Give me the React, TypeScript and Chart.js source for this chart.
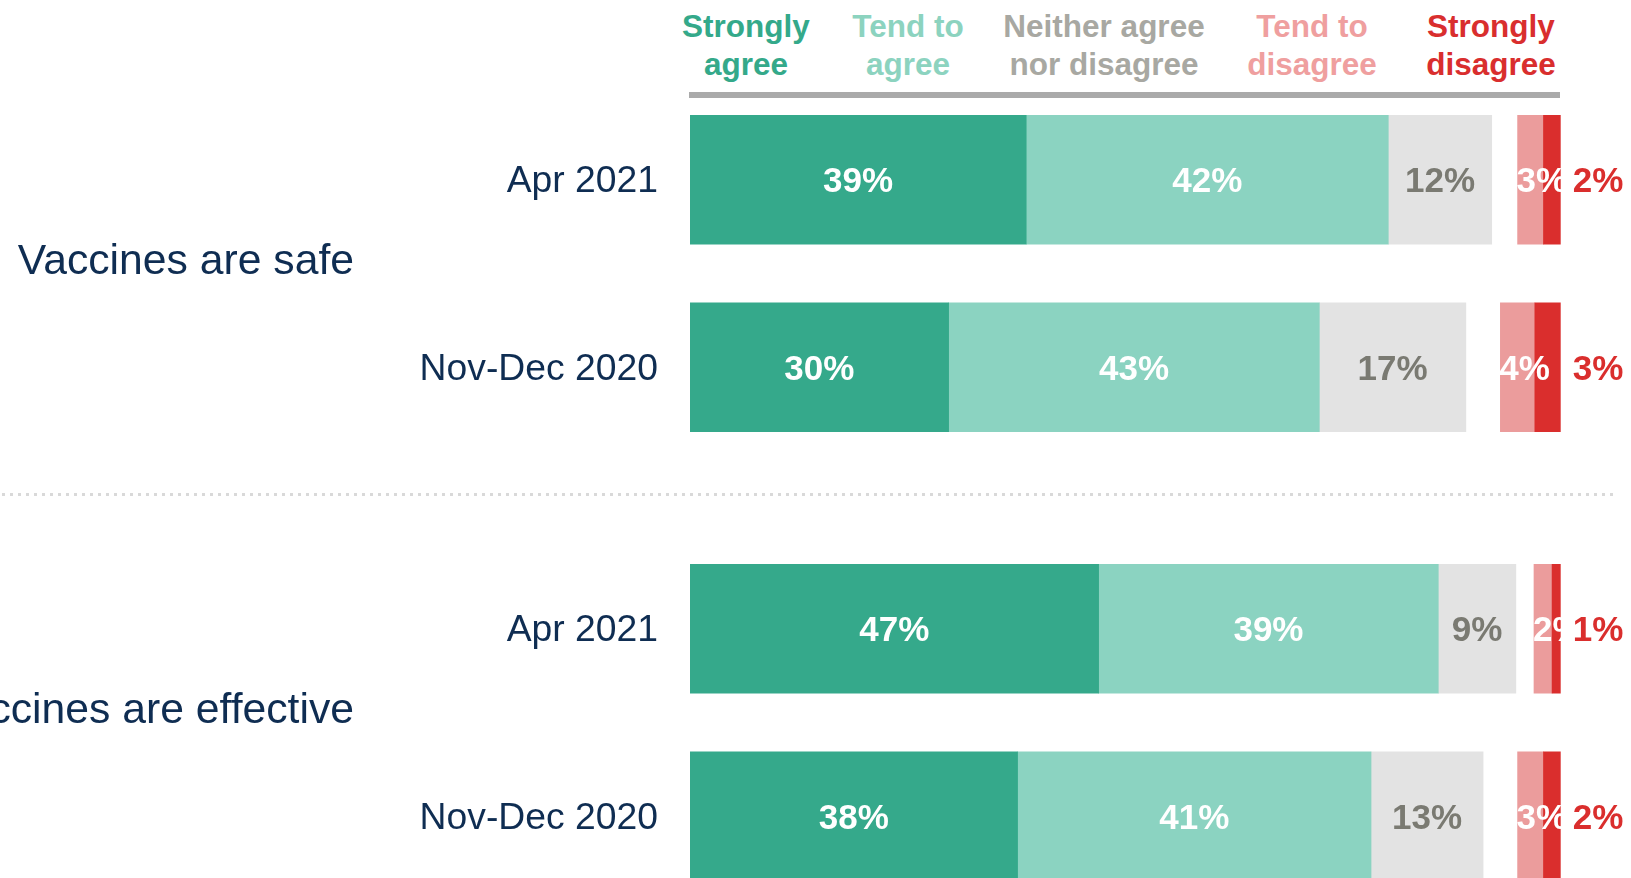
import React, { useEffect, useRef } from "react";
import { Chart, registerables } from "chart.js";

Chart.register(...registerables);

// ---------- data ----------
const CATEGORIES = ["Apr 2021", "Nov-Dec 2020"];
const GROUP_LABELS = ["Vaccines are safe", "Vaccines are effective"];
const RESPONSE_HEADERS = [
  ["Strongly", "agree"],
  ["Tend to", "agree"],
  ["Neither agree", "nor disagree"],
  ["Tend to", "disagree"],
  ["Strongly", "disagree"],
];

const SAFE_STRONGLY_AGREE = [39, 30];
const SAFE_TEND_AGREE = [42, 43];
const SAFE_NEITHER = [12, 17];
const SAFE_TEND_DISAGREE = [3, 4];
const SAFE_STRONGLY_DISAGREE = [2, 3];

const EFF_STRONGLY_AGREE = [47.4, 38];
const EFF_TEND_AGREE = [39.4, 41];
const EFF_NEITHER = [9, 13];
const EFF_TEND_DISAGREE = [2.1, 3];
const EFF_STRONGLY_DISAGREE = [1, 2];

const AXIS_MAX = 101;

// ---------- style ----------
const FONT = '"Liberation Sans", Arial, Helvetica, sans-serif';
const NAVY = "#0f2d52";
const BAR_COLORS = {
  sa: "#35a98b",
  ta: "#8bd3c1",
  ne: "#e3e3e3",
  td: "#eb9c9c",
  sd: "#da2e2d",
};
const HEADER_COLORS = ["#34a98a", "#8cd3bf", "#a8a8a2", "#ef9f9f", "#d92e2e"];
const HEADER_CENTERS = [746, 908, 1104, 1312, 1491];

const labelPlugin = {
  id: "segLabels",
  afterDatasetsDraw(chart: any, _args: any, opts: any) {
    const ctx = chart.ctx;
    const area = chart.chartArea;
    const size = 35;
    ctx.save();
    ctx.textBaseline = "alphabetic";
    ctx.font = `bold ${size}px ${FONT}`;
    const order = ["sa", "ta", "ne", "td", "sd"];
    order.forEach((kind) => {
      chart.data.datasets.forEach((ds: any, di: number) => {
        if (ds.kind !== kind) return;
        const meta = chart.getDatasetMeta(di);
        meta.data.forEach((el: any, i: number) => {
          const v = ds.data[i];
          const text = Math.round(v) + "%";
          const p = el.getProps(["x", "base", "y"], true);
          const left = Math.min(p.x, p.base);
          const right = Math.max(p.x, p.base);
          const by = p.y + size * 0.358;
          if (kind === "sd") {
            ctx.fillStyle = BAR_COLORS.sd;
            ctx.textAlign = "left";
            ctx.fillText(text, area.right + 12, by);
          } else if (kind === "td") {
            ctx.fillStyle = "#ffffff";
            ctx.textAlign = "left";
            ctx.fillText(text, left - 1, by);
          } else {
            ctx.fillStyle = kind === "ne" ? "#7a7a72" : "#ffffff";
            ctx.textAlign = "center";
            ctx.fillText(text, (left + right) / 2, by);
          }
        });
      });
    });
    // category labels, positioned with the category scale
    const yScale = chart.scales.y;
    const catSize = 37.3;
    ctx.font = `${catSize}px ${FONT}`;
    ctx.fillStyle = NAVY;
    ctx.textAlign = "right";
    chart.data.labels.forEach((lab: string, i: number) => {
      const y = yScale.getPixelForValue(i);
      ctx.fillText(lab, area.left - 32, y + catSize * 0.358 - 1);
    });
    // group label
    ctx.font = `42.7px ${FONT}`;
    ctx.textAlign = "right";
    ctx.fillText(opts.group, 354, (area.top + area.bottom) / 2);
    ctx.restore();
  },
};

function makeConfig(
  group: string,
  sa: number[],
  ta: number[],
  ne: number[],
  td: number[],
  sd: number[]
): any {
  return {
    type: "bar",
    data: {
      labels: CATEGORIES,
      datasets: [
        { kind: "sa", label: "Strongly agree", data: sa, backgroundColor: BAR_COLORS.sa, xAxisID: "x" },
        { kind: "ta", label: "Tend to agree", data: ta, backgroundColor: BAR_COLORS.ta, xAxisID: "x" },
        { kind: "ne", label: "Neither agree nor disagree", data: ne, backgroundColor: BAR_COLORS.ne, xAxisID: "x" },
        { kind: "sd", label: "Strongly disagree", data: sd, backgroundColor: BAR_COLORS.sd, xAxisID: "x2" },
        { kind: "td", label: "Tend to disagree", data: td, backgroundColor: BAR_COLORS.td, xAxisID: "x2" },
      ],
    },
    options: {
      indexAxis: "y",
      responsive: false,
      animation: false,
      datasets: { bar: { barThickness: 129, grouped: false, borderWidth: 0 } },
      layout: { autoPadding: false, padding: { left: 690, right: 70.3, top: 0, bottom: 0 } },
      scales: {
        x: { type: "linear", stacked: true, min: 0, max: AXIS_MAX, display: false },
        x2: { type: "linear", stacked: true, min: 0, max: AXIS_MAX, reverse: true, display: false, position: "bottom" },
        y: { type: "category", stacked: true, display: false, offset: true },
      },
      plugins: {
        legend: { display: false },
        tooltip: { enabled: false },
        segLabels: { group },
      },
    },
    plugins: [labelPlugin],
  };
}

function BarCanvas({ top, cfg }: { top: number; cfg: () => any }) {
  const ref = useRef<HTMLCanvasElement | null>(null);
  useEffect(() => {
    if (!ref.current) return;
    const chart = new Chart(ref.current, cfg());
    return () => chart.destroy();
  }, []);
  return (
    <canvas
      ref={ref}
      width={1631}
      height={375}
      style={{ position: "absolute", left: 0, top, width: 1631, height: 375, display: "block" }}
    />
  );
}

export default function App() {
  return (
    <div
      style={{
        position: "fixed",
        left: 0,
        top: 0,
        width: 1631,
        height: 878,
        overflow: "hidden",
        background: "#ffffff",
      }}
    >
      {RESPONSE_HEADERS.map((lines, i) => (
        <div
          key={i}
          style={{
            position: "absolute",
            left: HEADER_CENTERS[i] - 150,
            width: 300,
            top: 6.5,
            textAlign: "center",
            fontFamily: FONT,
            fontWeight: "bold",
            fontSize: 31.5,
            lineHeight: "38.3px",
            color: HEADER_COLORS[i],
            whiteSpace: "nowrap",
          }}
        >
          {lines[0]}
          <br />
          {lines[1]}
        </div>
      ))}
      <div
        style={{
          position: "absolute",
          left: 689,
          top: 91.5,
          width: 871,
          height: 6.5,
          background: "#aaaaaa",
        }}
      />
      <BarCanvas
        top={86}
        cfg={() =>
          makeConfig(
            GROUP_LABELS[0],
            SAFE_STRONGLY_AGREE,
            SAFE_TEND_AGREE,
            SAFE_NEITHER,
            SAFE_TEND_DISAGREE,
            SAFE_STRONGLY_DISAGREE
          )
        }
      />
      <div
        style={{
          position: "absolute",
          left: 2,
          top: 492.5,
          width: 1614,
          height: 3.5,
          background: "repeating-linear-gradient(to right, #d9d9d9 0px, #d9d9d9 3.5px, transparent 3.5px, transparent 8px)",
        }}
      />
      <BarCanvas
        top={535}
        cfg={() =>
          makeConfig(
            GROUP_LABELS[1],
            EFF_STRONGLY_AGREE,
            EFF_TEND_AGREE,
            EFF_NEITHER,
            EFF_TEND_DISAGREE,
            EFF_STRONGLY_DISAGREE
          )
        }
      />
    </div>
  );
}
